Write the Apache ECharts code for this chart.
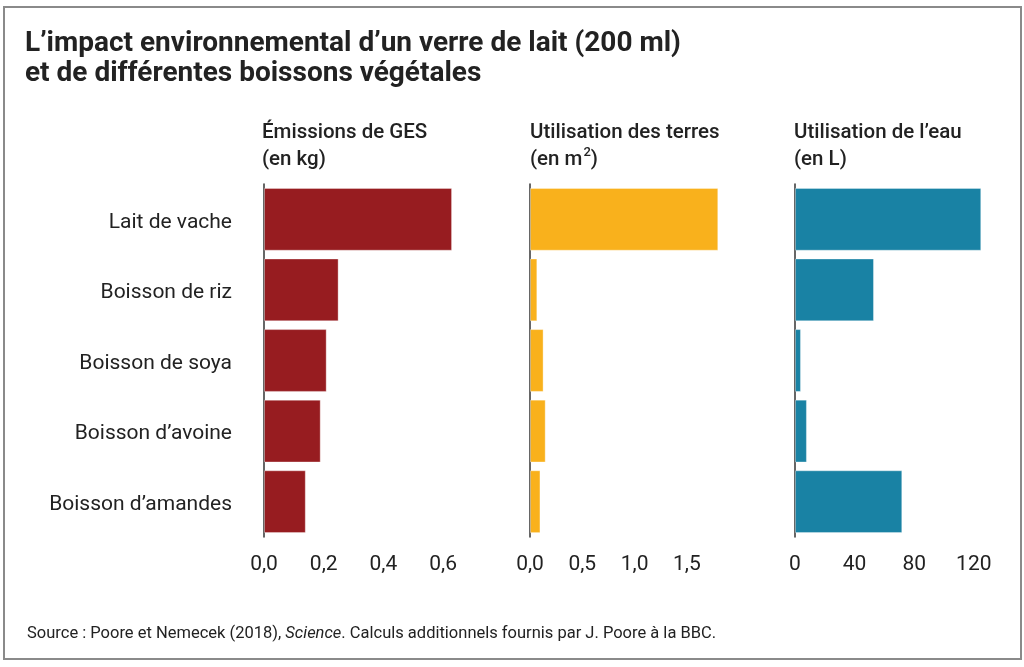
<!DOCTYPE html>
<html><head><meta charset="utf-8">
<script src="https://cdn.jsdelivr.net/npm/echarts@6/dist/echarts.min.js"></script>
<style>html,body{margin:0;padding:0;background:#fff}#c{width:1024px;height:667px}</style>
</head><body><div id="c"></div>
<script>
const categories = ["Lait de vache", "Boisson de riz", "Boisson de soya", "Boisson d’avoine", "Boisson d’amandes"];
const ges = [0.63, 0.25, 0.21, 0.19, 0.14];
const terres = [1.80, 0.07, 0.13, 0.15, 0.10];
const eau = [125, 53, 4, 8, 72];
const gesTicks = [0, 0.2, 0.4, 0.6];
const terresTicks = [0, 0.5, 1.0, 1.5];
const eauTicks = [0, 40, 80, 120];
const colors = ["#971c20", "#f9b11c", "#1982a4"];

const chart = echarts.init(document.getElementById('c'), null, {renderer: 'canvas'});
const FONT = 'Roboto, "Noto Sans", sans-serif';
const gridTop = 184, gridH = 353;
const grids = [
  {left: 264, top: gridTop, width: 0.7 * 298.5, height: gridH},
  {left: 530, top: gridTop, width: 1.9 * 104.6, height: gridH},
  {left: 795, top: gridTop, width: 135 * 1.49, height: gridH}
];
const maxes = [0.7, 1.9, 135];
const tickSets = [gesTicks, terresTicks, eauTicks];
const intervals = [0.2, 0.5, 40];
function fmt(v, dec) { return dec ? v.toFixed(1).replace('.', ',') : String(v); }

const xAxes = grids.map((g, i) => ({
  type: 'value', gridIndex: i, min: 0, max: maxes[i], interval: intervals[i],
  axisLine: {show: false}, axisTick: {show: false}, splitLine: {show: false},
  axisLabel: {
    margin: 17, color: '#222', fontFamily: FONT, fontSize: 21,
    customValues: tickSets[i],
    formatter: v => {
      const ok = tickSets[i].some(t => Math.abs(t - v) < 1e-9);
      return ok ? fmt(v, i < 2) : '';
    }
  }
}));
const yAxes = grids.map((g, i) => ({
  type: 'category', gridIndex: i, data: categories, inverse: true,
  axisLine: {show: true, lineStyle: {color: '#333', width: 1.5}},
  axisTick: {show: false},
  axisLabel: {show: i === 0, margin: 32, color: '#222', fontFamily: FONT, fontSize: 21, verticalAlign: 'top', lineHeight: 6}
}));
const datasets = [ges, terres, eau];
const series = datasets.map((d, i) => ({
  type: 'bar', xAxisIndex: i, yAxisIndex: i, data: d, barCategoryGap: '11%',
  itemStyle: {color: colors[i], borderColor: 'rgba(255,255,255,0.35)', borderWidth: 1},
  silent: true
}));

const headStyle = {fontFamily: FONT, fontSize: 20.5, fontWeight: 500, color: '#222', lineHeight: 27};
chart.setOption({
  backgroundColor: '#fff',
  animation: false,
  title: [
    {text: 'L’impact environnemental d’un verre de lait (200 ml)\net de différentes boissons végétales',
     left: 25, top: 29, padding: 0, textStyle: {fontFamily: FONT, fontSize: 28, fontWeight: 'bold', color: '#222', lineHeight: 30}},
    {text: 'Émissions de GES\n(en kg)', left: 262, top: 119, padding: 0, textStyle: headStyle},
    {text: '{a|Utilisation des terres}\n{a|(en m}{s|2}{a|)}', left: 530, top: 119, padding: 0,
     textStyle: {rich: {a: headStyle, s: {fontFamily: FONT, fontSize: 13, fontWeight: 500, color: '#222', verticalAlign: 'top', lineHeight: 27, padding: [0,0,8,1]}}}},
    {text: 'Utilisation de l’eau\n(en L)', left: 794, top: 119, padding: 0, textStyle: headStyle},
    {text: '{a|Source : Poore et Nemecek (2018), }{i|Science}{a|. Calculs additionnels fournis par J. Poore à la BBC.}',
     left: 27, top: 625, padding: 0,
     textStyle: {rich: {
       a: {fontFamily: FONT, fontSize: 16.5, fontWeight: 'normal', color: '#222'},
       i: {fontFamily: FONT, fontSize: 16.5, fontWeight: 'normal', fontStyle: 'italic', color: '#222'}
     }}}
  ],
  graphic: [{type: 'rect', shape: {x: 4, y: 7, width: 1017, height: 652}, style: {fill: 'none', stroke: '#8a8a8a', lineWidth: 2}, silent: true, z: -1}],
  grid: grids,
  xAxis: xAxes,
  yAxis: yAxes,
  series: series
});
</script></body></html>
